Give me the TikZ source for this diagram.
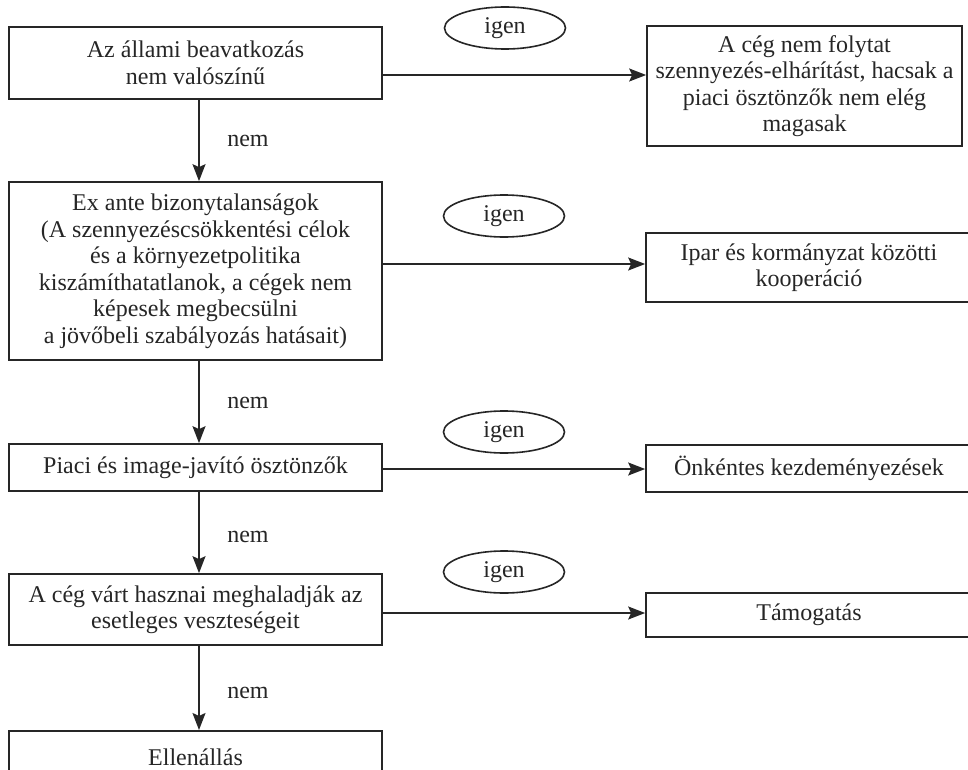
\documentclass[tikz,border=0pt]{standalone}
\usepackage{fontspec}
\setmainfont{Liberation Serif}
\usetikzlibrary{arrows.meta,shapes.geometric}
\definecolor{ink}{HTML}{262626}
\begin{document}
\begin{tikzpicture}[x=1pt,y=-1pt,
  txt/.style={text=ink, font=\fontsize{24}{26.5}\selectfont},
  box/.style={txt, draw=ink, line width=1.7pt, rectangle, align=center, inner sep=0pt},
  yes/.style={txt, draw=ink, line width=1.6pt, ellipse, inner sep=0pt, minimum width=121pt, minimum height=42pt},
  arr/.style={draw=ink, line width=1.7pt, -{Stealth[length=17pt, width=13pt, inset=3pt]}}
]
\useasboundingbox (0,0) rectangle (968,770);
\fill[white] (0,0) rectangle (968,770);

% left column
\node[box, minimum width=373pt, minimum height=72pt] (b1) at (195.5,63) {Az állami beavatkozás\\nem valószínű};
\node[box, minimum width=373pt, minimum height=178pt] (b2) at (195.5,271) {Ex ante bizonytalanságok\\(A szennyezéscsökkentési célok\\és a környezetpolitika\\kiszámíthatatlanok, a cégek nem\\képesek megbecsülni\\a jövőbeli szabályozás hatásait)};
\node[box, minimum width=373pt, minimum height=47pt] (b3) at (195.5,467.5) {Piaci és image-javító ösztönzők};
\node[box, minimum width=373pt, minimum height=71pt] (b4) at (195.5,609.5) {A cég várt hasznai meghaladják az\\esetleges veszteségeit};
\node[box, minimum width=373pt, minimum height=52pt, anchor=north] (b5) at (195.5,730) {Ellenállás};

% right column
\node[box, minimum width=315pt, minimum height=120pt] (r1) at (804.5,86) {A cég nem folytat\\szennyezés-elhárítást, hacsak a\\piaci ösztönzők nem elég\\magasak};
\node[box, minimum width=326pt, minimum height=69pt] (r2) at (809,267.5) {Ipar és kormányzat közötti\\kooperáció};
\node[box, minimum width=326pt, minimum height=47pt] (r3) at (809,468.5) {Önkéntes kezdeményezések};
\node[box, minimum width=326pt, minimum height=44pt] (r4) at (809,615) {Támogatás};

% igen ellipses
\node[yes] (e1) at (505,28) {igen};
\node[yes] (e2) at (504,216) {igen};
\node[yes] (e3) at (504,432) {igen};
\node[yes] (e4) at (504,572) {igen};

% nem labels
\node[txt] (n1) at (248,141) {nem};
\node[txt] (n2) at (248,403) {nem};
\node[txt] (n3) at (248,537) {nem};
\node[txt] (n4) at (248,693) {nem};

% helper coordinates
\coordinate (ax) at (199,0);
\coordinate (h1) at (0,75);
\coordinate (h2) at (0,264);
\coordinate (h3) at (0,469);
\coordinate (h4) at (0,613);

% vertical arrows
\draw[arr] (b1.south -| ax) -- (b2.north -| ax);
\draw[arr] (b2.south -| ax) -- (b3.north -| ax);
\draw[arr] (b3.south -| ax) -- (b4.north -| ax);
\draw[arr] (b4.south -| ax) -- (b5.north -| ax);

% horizontal arrows
\draw[arr] (b1.east |- h1) -- (r1.west |- h1);
\draw[arr] (b2.east |- h2) -- (r2.west |- h2);
\draw[arr] (b3.east |- h3) -- (r3.west |- h3);
\draw[arr] (b4.east |- h4) -- (r4.west |- h4);
\end{tikzpicture}
\end{document}
